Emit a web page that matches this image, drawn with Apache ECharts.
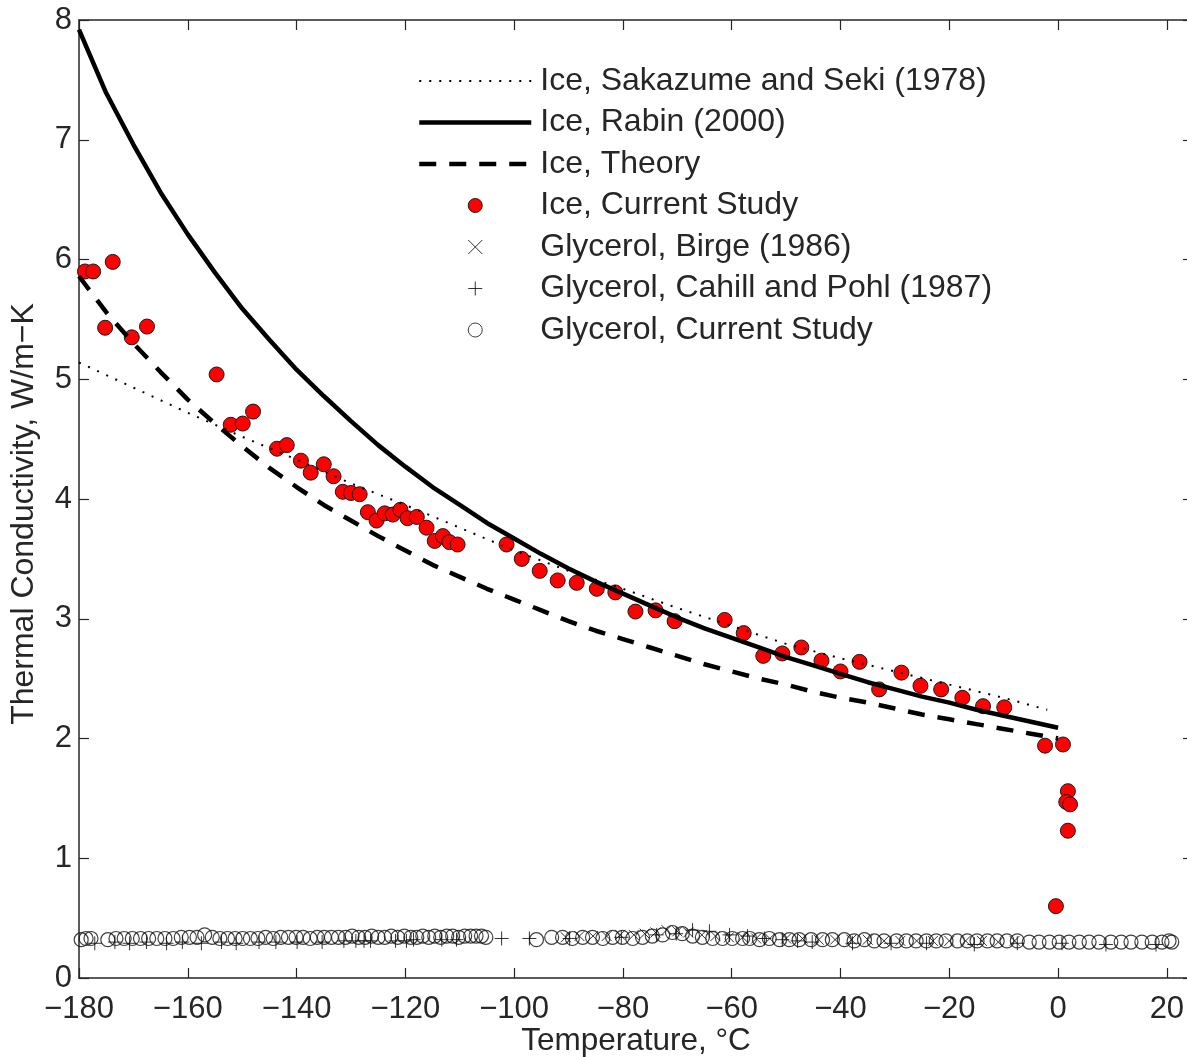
<!DOCTYPE html>
<html>
<head>
<meta charset="utf-8">
<script src="https://cdn.jsdelivr.net/npm/echarts@6/dist/echarts.min.js"></script>
<style>
html,body{margin:0;padding:0;background:#fff;overflow:hidden;}
#chart{width:1187px;height:1057px;}
</style>
</head>
<body>
<div id="chart"></div>
<script>
// ---- data (temperature °C, thermal conductivity W/m-K) ----
const xTicks = [-180, -160, -140, -120, -100, -80, -60, -40, -20, 0, 20];
const yTicks = [0, 1, 2, 3, 4, 5, 6, 7, 8];

const sakazume = [[-180,5.14],[-170,4.93],[-160,4.72],[-150,4.52],[-140,4.33],[-130,4.13],[-120,3.95],[-110,3.76],[-100,3.57],[-90,3.40],[-80,3.25],[-70,3.09],[-60,2.94],[-50,2.79],[-40,2.67],[-30,2.56],[-20,2.45],[-10,2.34],[-2,2.24]];

const rabin = [[-180,7.92],[-175,7.39],[-170,6.96],[-165,6.56],[-160,6.21],[-155,5.89],[-150,5.59],[-145,5.33],[-140,5.08],[-135,4.86],[-130,4.65],[-125,4.45],[-120,4.27],[-115,4.10],[-110,3.95],[-105,3.80],[-100,3.67],[-95,3.54],[-90,3.42],[-85,3.31],[-80,3.21],[-75,3.11],[-70,3.01],[-65,2.92],[-60,2.84],[-55,2.76],[-50,2.68],[-45,2.61],[-40,2.54],[-35,2.47],[-30,2.41],[-25,2.35],[-20,2.30],[-15,2.24],[-10,2.19],[-5,2.14],[0,2.09]];

const theory = [[-180,5.86],[-175,5.56],[-170,5.30],[-165,5.06],[-160,4.83],[-155,4.63],[-150,4.44],[-145,4.26],[-140,4.10],[-135,3.95],[-130,3.82],[-125,3.69],[-120,3.57],[-115,3.45],[-110,3.35],[-105,3.25],[-100,3.16],[-95,3.07],[-90,2.98],[-85,2.90],[-80,2.83],[-75,2.76],[-70,2.69],[-65,2.62],[-60,2.56],[-55,2.50],[-50,2.45],[-45,2.39],[-40,2.34],[-35,2.30],[-30,2.25],[-25,2.20],[-20,2.16],[-15,2.12],[-10,2.08],[-5,2.04],[0,2.00]];

const iceCurrent = [[-178.9,5.90],[-177.4,5.90],[-173.8,5.98],[-175.2,5.43],[-170.3,5.35],[-167.5,5.44],[-154.7,5.04],[-152.1,4.62],[-149.9,4.63],[-148.0,4.73],[-143.6,4.42],[-141.8,4.45],[-139.2,4.32],[-137.4,4.22],[-135.0,4.29],[-133.2,4.19],[-131.5,4.06],[-130.0,4.05],[-128.4,4.04],[-126.9,3.89],[-125.3,3.82],[-123.8,3.88],[-122.3,3.87],[-120.9,3.91],[-119.6,3.84],[-117.9,3.85],[-116.1,3.76],[-114.6,3.65],[-113.1,3.69],[-111.9,3.64],[-110.4,3.62],[-101.4,3.62],[-98.6,3.50],[-95.3,3.40],[-92.0,3.32],[-88.5,3.30],[-84.8,3.25],[-81.4,3.22],[-77.7,3.06],[-74.0,3.07],[-70.5,2.98],[-61.3,2.99],[-57.8,2.88],[-54.2,2.69],[-50.7,2.71],[-47.2,2.76],[-43.5,2.65],[-40.0,2.56],[-36.5,2.64],[-32.9,2.41],[-28.8,2.55],[-25.3,2.44],[-21.5,2.41],[-17.6,2.34],[-13.8,2.27],[-9.9,2.26],[-2.4,1.94],[0.9,1.95],[1.8,1.56],[1.5,1.47],[2.2,1.45],[1.8,1.23],[-0.4,0.60]];

const glycerolBirge = [[-90.5,0.34],[-88,0.35],[-85.5,0.35],[-83,0.35],[-80.5,0.36],[-78,0.36],[-76,0.37],[-74,0.38],[-72,0.40],[-70,0.39],[-68,0.38],[-65.5,0.36],[-63,0.35],[-60.5,0.34],[-58,0.34],[-55.5,0.33],[-53,0.33],[-50,0.33],[-47,0.33],[-44,0.32],[-41,0.32],[-38,0.32],[-35,0.32],[-32,0.31],[-29,0.31],[-26,0.31],[-23,0.31],[-20,0.31],[-17,0.31],[-14,0.31],[-11,0.30],[-8,0.31]];

const glycerolCahill = [[-177.1,0.29],[-173.4,0.30],[-170.7,0.29],[-167.6,0.30],[-163.9,0.29],[-161.0,0.30],[-157.5,0.29],[-153.8,0.30],[-151.1,0.29],[-146.9,0.30],[-143.8,0.30],[-139.9,0.30],[-135.3,0.30],[-131.3,0.31],[-129.1,0.31],[-127.6,0.31],[-126.4,0.31],[-121.8,0.31],[-119.8,0.31],[-118.5,0.32],[-113.3,0.32],[-110.6,0.32],[-102.3,0.33],[-97.2,0.33],[-89.8,0.33],[-80.3,0.34],[-73.8,0.36],[-70.2,0.37],[-67.2,0.40],[-64.1,0.39],[-60.4,0.36],[-57.1,0.35],[-54.0,0.33],[-50.7,0.32],[-47.9,0.31],[-45.2,0.30],[-37.8,0.29],[-30.7,0.29],[-24.2,0.29],[-15.4,0.28],[-7.5,0.29],[0.7,0.29],[8.8,0.28],[18.0,0.28]];

const glycerolCurrent = [[-179.6,0.32],[-178.7,0.33],[-177.8,0.33],[-174.7,0.32],[-173.2,0.33],[-171.7,0.33],[-170.2,0.33],[-168.7,0.33],[-167.2,0.33],[-165.7,0.33],[-164.2,0.33],[-162.7,0.33],[-161.2,0.34],[-159.7,0.34],[-158.3,0.34],[-156.9,0.36],[-155.5,0.34],[-154.1,0.33],[-152.7,0.33],[-151.3,0.33],[-149.9,0.33],[-148.5,0.33],[-147.1,0.33],[-145.7,0.34],[-144.3,0.33],[-142.9,0.34],[-141.5,0.34],[-140.1,0.34],[-138.8,0.34],[-137.5,0.33],[-136.2,0.34],[-134.9,0.34],[-133.6,0.34],[-132.3,0.34],[-131.0,0.34],[-129.8,0.35],[-128.6,0.34],[-127.4,0.34],[-126.2,0.35],[-125.0,0.34],[-123.8,0.34],[-122.6,0.35],[-121.4,0.34],[-120.2,0.35],[-119.0,0.34],[-117.9,0.34],[-116.8,0.35],[-115.7,0.34],[-114.6,0.35],[-113.5,0.34],[-112.4,0.35],[-111.3,0.35],[-110.2,0.34],[-109.1,0.35],[-108.0,0.35],[-107.0,0.35],[-106.0,0.35],[-105.2,0.34],
[-95.9,0.32],[-93.1,0.34],[-91.1,0.34],[-89.3,0.33],[-87.4,0.34],[-85.6,0.34],[-83.7,0.33],[-81.9,0.34],[-80.1,0.34],[-78.2,0.33],[-76.4,0.34],[-74.6,0.35],[-72.7,0.36],[-70.9,0.38],[-69.1,0.37],[-67.2,0.35],[-65.4,0.34],[-63.5,0.33],[-61.7,0.33],[-59.9,0.33],[-58.0,0.33],[-56.7,0.33],[-54.9,0.32],[-53.1,0.33],[-51.2,0.32],[-49.4,0.32],[-47.6,0.32],[-45.4,0.32],[-43.3,0.32],[-41.5,0.32],[-39.3,0.32],[-37.5,0.31],[-35.6,0.32],[-33.8,0.31],[-32.0,0.31],[-29.7,0.31],[-27.9,0.31],[-26.1,0.31],[-24.2,0.31],[-22.4,0.31],[-20.6,0.31],[-18.5,0.31],[-16.7,0.31],[-14.9,0.31],[-13.0,0.31],[-11.2,0.31],[-9.4,0.31],[-7.5,0.31],[-5.3,0.30],[-3.5,0.30],[-1.6,0.30],[0.2,0.30],[2.0,0.30],[3.9,0.30],[5.7,0.30],[7.5,0.30],[9.7,0.30],[11.6,0.30],[13.4,0.30],[15.4,0.30],[17.3,0.30],[19.1,0.30],[20.4,0.31],[20.9,0.30]];

const seriesNames = ['Ice, Sakazume and Seki (1978)','Ice, Rabin (2000)','Ice, Theory','Ice, Current Study','Glycerol, Birge (1986)','Glycerol, Cahill and Pohl (1987)','Glycerol, Current Study'];
const xName = 'Temperature, \u00B0C';
const yName = 'Thermal Conductivity, W/m\u2212K';

// ---- chart ----
const FONT = '"Liberation Sans", Arial, Helvetica, sans-serif';
const AX = '#262626';
const fmt = v => (v < 0 ? '\u2212' + Math.abs(v) : String(v));

const chart = echarts.init(document.getElementById('chart'), null, {renderer: 'canvas'});
const X_MIN = -180, X_MAX = 23.7;
const baseX = {
  type: 'value', min: X_MIN, max: X_MAX, interval: 20,
  axisLine: {show: true, onZero: false, lineStyle: {color: AX, width: 1.5}},
  axisTick: {show: true, inside: true, length: 10, customValues: xTicks, lineStyle: {color: AX, width: 1.2}},
  splitLine: {show: false}
};
const baseY = {
  type: 'value', min: 0, max: 8, interval: 1,
  axisLine: {show: true, onZero: false, lineStyle: {color: AX, width: 1.5}},
  axisTick: {show: true, inside: true, length: 10, customValues: yTicks, lineStyle: {color: AX, width: 1.2}},
  splitLine: {show: false}
};

const lineLegendHide = {opacity: 0};

const option = {
  backgroundColor: '#fff',
  animation: false,
  grid: {left: 79, top: 20, right: 0, bottom: 79, containLabel: false, outerBoundsMode: 'none'},
  xAxis: [
    Object.assign({}, baseX, {
      position: 'bottom',
      axisLabel: {customValues: xTicks, formatter: fmt, fontSize: 31, color: AX, fontFamily: FONT, margin: 16}
    }),
    Object.assign({}, baseX, {position: 'top', axisLabel: {show: false}})
  ],
  yAxis: [
    Object.assign({}, baseY, {
      position: 'left',
      axisLabel: {customValues: yTicks, fontSize: 31, color: AX, fontFamily: FONT, margin: 7}
    }),
    Object.assign({}, baseY, {
      position: 'right', axisLabel: {show: false},
      axisLine: {show: false, onZero: false},
      axisTick: {show: true, inside: true, length: 4, customValues: yTicks, lineStyle: {color: AX, width: 1.2}}
    })
  ],
  graphic: [
    {type: 'text', x: 24, y: 514, rotation: Math.PI / 2,
     style: {text: yName, fill: AX, font: '32px ' + FONT, align: 'center', verticalAlign: 'middle'}},
    {type: 'text', x: 636, y: 1041,
     style: {text: xName, fill: AX, font: '31.5px ' + FONT, align: 'center', verticalAlign: 'middle'}}
  ],
  legend: {
    orient: 'vertical', left: 417, top: 64, padding: 0,
    itemWidth: 112, itemHeight: 14, itemGap: 7.5,
    textStyle: {fontSize: 32, color: AX, fontFamily: FONT, lineHeight: 34, padding: [0, 0, 0, 4]},
    data: [
      {name: seriesNames[0], lineStyle: {width: 2, type: [2, 8]}, itemStyle: lineLegendHide},
      {name: seriesNames[1], lineStyle: {width: 4.5}, itemStyle: lineLegendHide},
      {name: seriesNames[2], lineStyle: {width: 4.5, type: [17, 13]}, itemStyle: lineLegendHide},
      {name: seriesNames[3], itemStyle: {borderWidth: 1}},
      {name: seriesNames[4], itemStyle: {borderWidth: 1}},
      {name: seriesNames[5], itemStyle: {borderWidth: 1}},
      {name: seriesNames[6], itemStyle: {borderWidth: 1}}
    ]
  },
  series: [
    {name: seriesNames[0], type: 'line', data: sakazume, symbol: 'circle', showSymbol: false, smooth: false,
     lineStyle: {color: '#000', width: 2, type: [2, 8]}, itemStyle: {color: '#000', opacity: 0}},
    {name: seriesNames[1], type: 'line', data: rabin, symbol: 'circle', showSymbol: false, smooth: false,
     lineStyle: {color: '#000', width: 4.5}, itemStyle: {color: '#000', opacity: 0}},
    {name: seriesNames[2], type: 'line', data: theory, symbol: 'circle', showSymbol: false, smooth: false,
     lineStyle: {color: '#000', width: 4.5, type: [17, 13]}, itemStyle: {color: '#000', opacity: 0}},
    {name: seriesNames[3], type: 'scatter', data: iceCurrent, symbol: 'circle', symbolSize: 15,
     itemStyle: {color: '#ff0000', borderColor: '#1a1a1a', borderWidth: 1, opacity: 1}},
    {name: seriesNames[4], type: 'scatter', data: glycerolBirge, symbol: 'path://M0,0L10,10M10,0L0,10', symbolSize: 10,
     itemStyle: {color: 'rgba(0,0,0,0)', borderColor: '#000', borderWidth: 1}},
    {name: seriesNames[5], type: 'scatter', data: glycerolCahill, symbol: 'path://M5,0L5,10M0,5L10,5', symbolSize: 14,
     itemStyle: {color: 'rgba(0,0,0,0)', borderColor: '#000', borderWidth: 1}},
    {name: seriesNames[6], type: 'scatter', data: glycerolCurrent, symbol: 'circle', symbolSize: 14,
     itemStyle: {color: 'rgba(0,0,0,0)', borderColor: '#111', borderWidth: 1.2}}
  ]
};
chart.setOption(option);
</script>
</body>
</html>
